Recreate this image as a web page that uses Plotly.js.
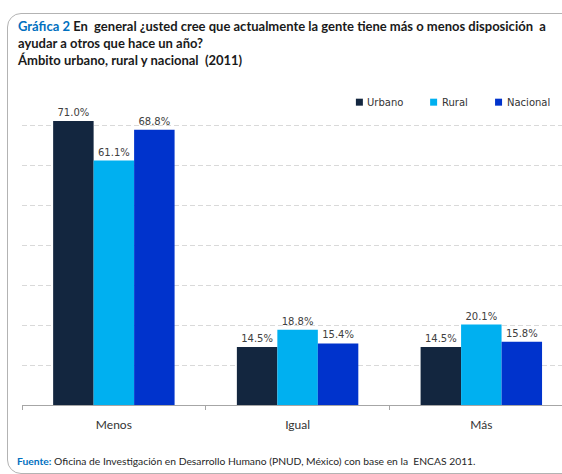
<!DOCTYPE html>
<html>
<head>
<meta charset="utf-8">
<script src="https://cdn.plot.ly/plotly-3.0.1.min.js"></script>
<style>
  html, body { margin: 0; padding: 0; background: #ffffff; overflow: hidden; }
  #wrap { position: relative; width: 562px; height: 474px; overflow: hidden; }
  #chart { position: absolute; left: 0; top: 0; width: 562px; height: 474px; }
  #frame { position: absolute; left: 7px; top: 13px; width: 640px; height: 459px;
           border: 1.5px solid #b3b3b3; border-radius: 14px; pointer-events: none; }
</style>
</head>
<body>
<div id="wrap">
  <div id="chart"></div>
  <div id="frame"></div>
</div>
<script>
// ---- data ----
const categories = ['Menos', 'Igual', 'Más'];
const seriesNames = ['Urbano', 'Rural', 'Nacional'];
const urbano = [71.0, 14.5, 14.5];
const rural = [61.1, 18.8, 20.1];
const nacional = [68.8, 15.4, 15.8];
const seriesColors = ['#13263f', '#00b0f0', '#0033cc'];
const titleLines = [
  'En  general ¿usted cree que actualmente la gente tiene más o menos disposición  a',
  'ayudar a otros que hace un año?',
  'Ámbito urbano, rural y nacional  (2011)'
];
const titleLabel = 'Gráfica 2';
const sourceLabel = 'Fuente:';
const sourceText = 'Oficina de Investigación en Desarrollo Humano (PNUD, México) con base en la  ENCAS 2011.';

// ---- layout geometry (pixels) ----
const W = 562, H = 474;
const mL = 21.5, mR = 0, mT = 84.8, mB = 68.8;
const plotW = W - mL - mR, plotH = H - mT - mB;
const px2x = px => (px - mL) / plotW;
const py2y = py => (H - mB - py) / plotH;

const allValues = [urbano, rural, nacional];
const traces = allValues.map((vals, i) => ({
  type: 'bar',
  name: seriesNames[i],
  x: categories,
  y: vals,
  marker: { color: seriesColors[i], line: { width: 0 } },
  texttemplate: '%{y:.1f}%',
  textposition: 'outside',
  textfont: { family: 'DejaVu Sans', size: 10, color: '#404040' },
  cliponaxis: false,
  hoverinfo: 'skip',
  showlegend: false
}));

// manual legend
const legendSquares = [355.7, 430, 495];
const legendY = 102;
const shapes = legendSquares.map((sx, i) => ({
  type: 'rect', xref: 'paper', yref: 'paper',
  x0: px2x(sx), x1: px2x(sx + 7),
  y0: py2y(legendY + 3.5), y1: py2y(legendY - 3.5),
  fillcolor: seriesColors[i], line: { width: 0 }
}));
const annotations = legendSquares.map((sx, i) => ({
  xref: 'paper', yref: 'paper',
  x: px2x(sx + 9.5), y: py2y(legendY),
  xanchor: 'left', yanchor: 'middle',
  text: seriesNames[i], showarrow: false,
  font: { family: 'DejaVu Sans', size: 10, color: '#333333' }
}));

annotations.push({
  xref: 'paper', yref: 'paper',
  x: px2x(14), y: py2y(16),
  xanchor: 'left', yanchor: 'top', align: 'left',
  showarrow: false,
  text: '<span style="color:#0070c0">' + titleLabel + '</span> ' + titleLines.join('<br>'),
  font: { family: 'Lato', size: 13, color: '#1a1a1a', weight: 'bold' }
});
annotations.push({
  xref: 'paper', yref: 'paper',
  x: px2x(14), y: py2y(461),
  xanchor: 'left', yanchor: 'middle', align: 'left',
  showarrow: false,
  text: '<b><span style="color:#0070c0">' + sourceLabel + '</span></b> ' + sourceText,
  font: { family: 'Lato', size: 10.3, color: '#262626' }
});

const layout = {
  width: W, height: H,
  margin: { l: mL, r: mR, t: mT, b: mB, pad: 0 },
  paper_bgcolor: 'rgba(0,0,0,0)',
  plot_bgcolor: 'rgba(0,0,0,0)',
  barmode: 'group',
  bargap: 0.339,
  bargroupgap: 0,
  showlegend: false,
  xaxis: {
    type: 'category',
    range: [-0.5, -0.5 + plotW / 183.9],
    showline: true, linecolor: '#a6a6a6', linewidth: 1,
    ticks: 'outside', tickson: 'boundaries', ticklen: 4, tickcolor: '#a6a6a6',
    ticklabelstandoff: 9,
    tickfont: { family: 'Lato', size: 12, color: '#333333' },
    showgrid: false, zeroline: false, fixedrange: true
  },
  yaxis: {
    range: [0, 80], dtick: 10,
    showticklabels: false, showline: false, zeroline: false,
    showgrid: true, gridcolor: '#d9d9d9', gridwidth: 1, griddash: '5px,3px',
    fixedrange: true
  },
  shapes: shapes,
  annotations: annotations
};

Plotly.newPlot('chart', traces, layout, { staticPlot: true, displayModeBar: false });
</script>
</body>
</html>
